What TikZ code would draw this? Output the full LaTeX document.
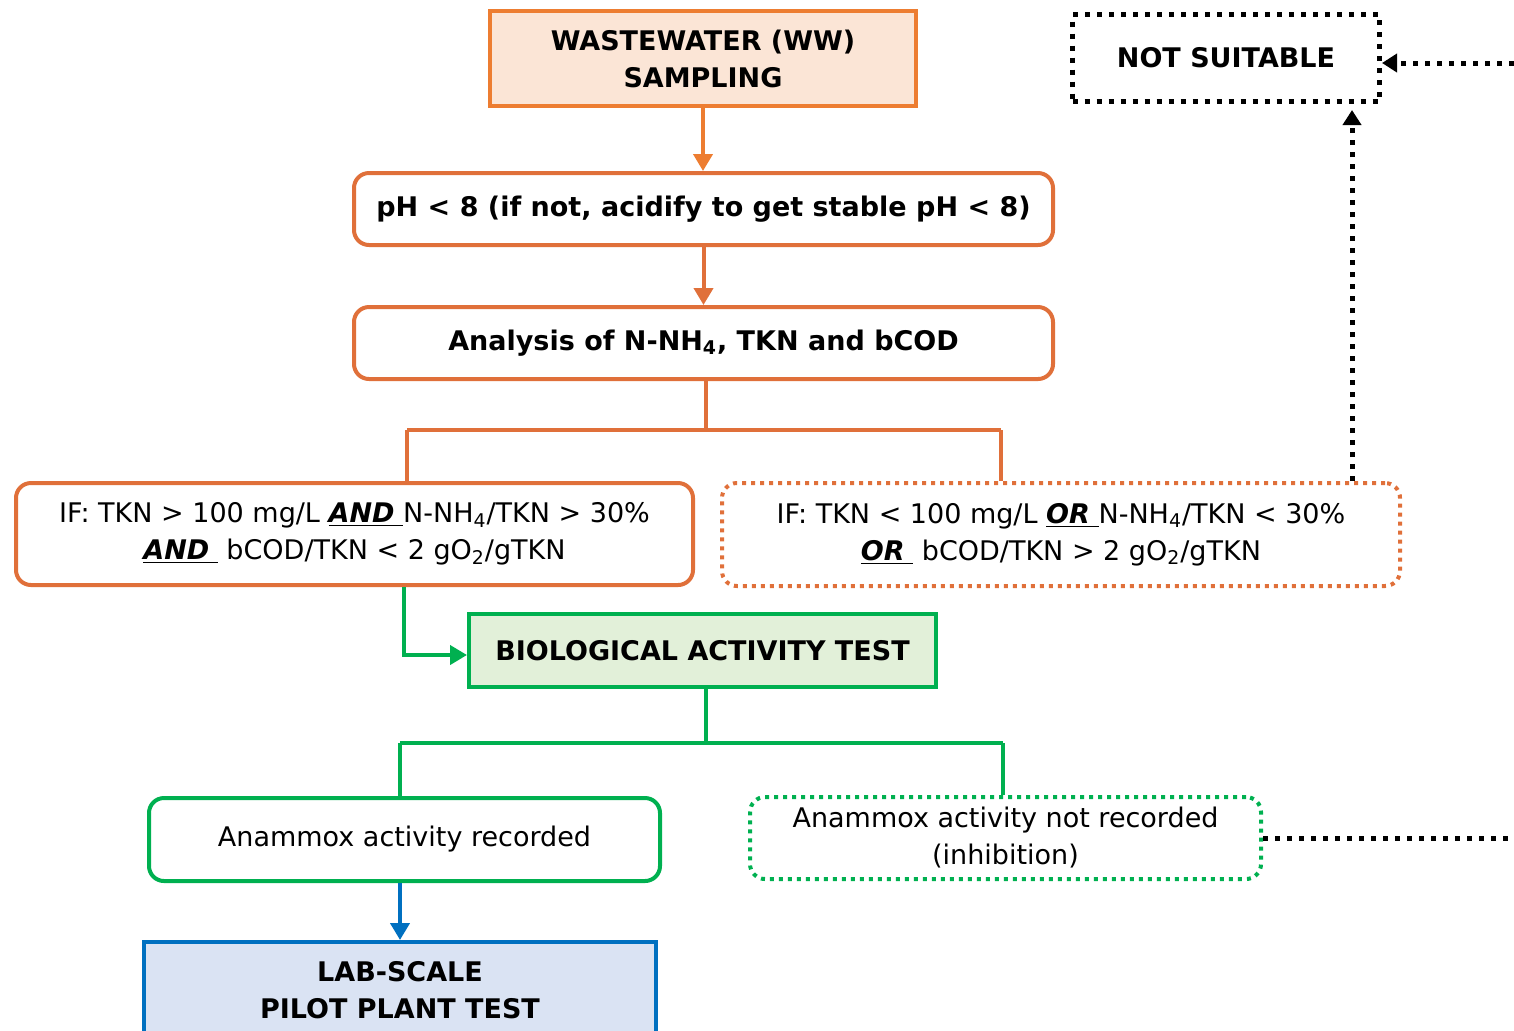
\documentclass[tikz,border=0pt]{standalone}
\usepackage{fontspec}
\setmainfont{DejaVu Sans}
\usetikzlibrary{arrows.meta}

\definecolor{wwfill}{HTML}{FBE5D6}
\definecolor{wwline}{HTML}{ED7D31}
\definecolor{orline}{HTML}{E0703A}
\definecolor{grline}{HTML}{00B050}
\definecolor{grfill}{HTML}{E2F0D9}
\definecolor{blline}{HTML}{0070C0}
\definecolor{blfill}{HTML}{DAE3F3}

\newcommand{\ulbf}[1]{\underline{\textbf{\textit{#1}}\ }}

\tikzset{every picture/.style={line width=0.75pt}}
\tikzset{
  boxtxt/.style={align=center, inner sep=0pt, font=\fontsize{13.5}{18.5}\selectfont},
  sqbox/.style={boxtxt, draw, line width=2pt},
  rdbox/.style={boxtxt, draw, line width=2pt, rounded corners=7.5pt},
  orgdot/.style={line width=2pt, dash pattern=on 2pt off 2.5pt},
  grndot/.style={line width=2pt, dash pattern=on 2pt off 2.5pt},
  blkdot/.style={line width=2.5pt, dash pattern=on 2.5pt off 3.5pt},
  arrtip/.style={-{Triangle[length=8.5pt,width=9.5pt]}},
  blktip/.style={-{Triangle[length=7.5pt,width=9pt]}},
}

\begin{document}
\begin{tikzpicture}[x=0.5pt,y=0.5pt,yscale=-1]
\useasboundingbox (0,0) rectangle (1514,1030);

%Shape: Rectangle
\node [sqbox, draw=wwline, fill=wwfill, minimum width=213pt, minimum height=47.5pt] (ww) at (703,58.5) {\textbf{WASTEWATER (WW)}\\\textbf{SAMPLING}};
%Rounded Rect
\node [rdbox, draw=orline, minimum width=349.5pt, minimum height=36pt] (ph) at (703.5,209) {\textbf{pH < 8 (if not, acidify to get stable pH < 8)}};
%Rounded Rect
\node [rdbox, draw=orline, minimum width=349.5pt, minimum height=36pt] (ana) at (703.5,343) {\textbf{Analysis of N-NH\textsubscript{4}, TKN and bCOD}};
%Rounded Rect
\node [rdbox, draw=orline, minimum width=338.5pt, minimum height=51pt] (ifyes) at (354.5,534) {IF: TKN > 100 mg/L \ulbf{AND}N-NH\textsubscript{4}/TKN > 30\%\\\ulbf{AND} bCOD/TKN < 2 gO\textsubscript{2}/gTKN};
%Rounded Rect (dotted)
\node [rdbox, draw=orline, orgdot, minimum width=339pt, minimum height=51.5pt] (ifno) at (1061,534.5) {IF: TKN < 100 mg/L \ulbf{OR}N-NH\textsubscript{4}/TKN < 30\%\\\ulbf{OR} bCOD/TKN > 2 gO\textsubscript{2}/gTKN};
%Shape: Rectangle (dotted)
\node [sqbox, blkdot, minimum width=153.5pt, minimum height=43.5pt] (ns) at (1226,58) {\textbf{NOT SUITABLE}};
%Shape: Rectangle
\node [sqbox, draw=grline, fill=grfill, minimum width=233.5pt, minimum height=36.5pt] (bio) at (702.5,650.5) {\textbf{BIOLOGICAL ACTIVITY TEST}};
%Rounded Rect
\node [rdbox, draw=grline, minimum width=255.5pt, minimum height=41.5pt] (rec) at (404.5,839.5) {Anammox activity recorded};
%Rounded Rect (dotted)
\node [rdbox, draw=grline, grndot, minimum width=255.5pt, minimum height=41pt] (nrec) at (1005.5,838) {Anammox activity not recorded\\(inhibition)};
%Shape: Rectangle
\node [sqbox, draw=blline, fill=blfill, minimum width=256pt, minimum height=48pt] (lab) at (400,990) {\textbf{LAB-SCALE}\\\textbf{PILOT PLANT TEST}};

% Coordinates for elbows and free ends
\coordinate (brL) at (407,430);
\coordinate (brR) at (1001,430);
\coordinate (gbL) at (400,743);
\coordinate (gbR) at (1003,743);
\coordinate (gturn) at (404,655);
\coordinate (upx) at (1352,0);
\coordinate (edgeA) at (1514,63);
\coordinate (edgeB) at (1514,838);

%Straight Lines
\draw [wwline, line width=2pt, arrtip] (ww.south) -- (ww.south |- ph.north);
\draw [orline, line width=2pt, arrtip] (ph.south) -- (ana.north);
%Straight Lines
\draw [orline, line width=2pt] (ana.south -| 706,0) -- (706,430);
\draw [orline, line width=2pt] (brL) -- (brR);
\draw [orline, line width=2pt] (brL) -- (brL |- ifyes.north);
\draw [orline, line width=2pt] (brR) -- (brR |- ifno.north);
%Straight Lines
\draw [grline, line width=2pt, arrtip] (gturn |- ifyes.south) -- (gturn) -- (gturn -| bio.west);
\draw [grline, line width=2pt] (bio.south -| 706,0) -- (706,743);
\draw [grline, line width=2pt] (gbL) -- (gbR);
\draw [grline, line width=2pt] (gbL) -- (gbL |- rec.north);
\draw [grline, line width=2pt] (gbR) -- (gbR |- nrec.north);
\draw [blline, line width=2pt, arrtip] (rec.south -| lab.north) -- (lab.north);
%Dotted Lines
\draw [blkdot, blktip, shorten >=3pt] (ifno.north -| upx) -- (upx |- ns.south);
\draw [blkdot, blktip] (edgeA) -- (edgeA -| ns.east);
\draw [blkdot] (nrec.east) -- (edgeB);

\end{tikzpicture}
\end{document}
